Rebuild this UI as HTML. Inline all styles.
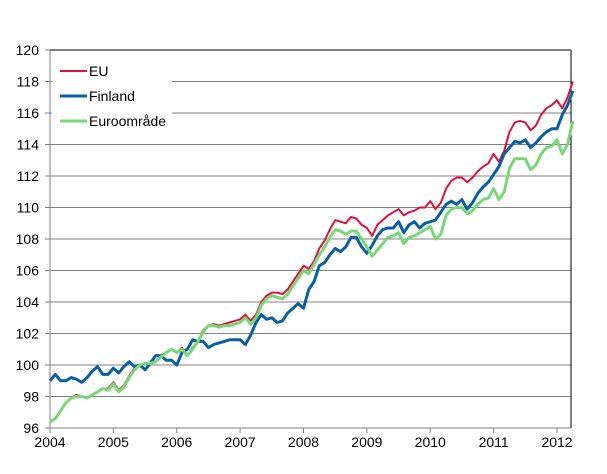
<!DOCTYPE html>
<html><head><meta charset="utf-8"><style>
body{margin:0;background:#fff}
svg{display:block;font-family:"Liberation Sans",sans-serif}
</style></head><body>
<svg id="s" width="607" height="474" viewBox="0 0 607 474">
</svg>
<script>
const eu=[96.4,96.6,97.1,97.6,97.9,98.1,98.0,97.9,98.1,98.3,98.5,98.5,
98.9,98.4,98.7,99.3,99.8,100.0,100.1,100.1,100.2,100.5,100.8,101.0,
100.8,101.1,100.6,101.1,101.5,102.2,102.5,102.6,102.5,102.6,102.7,102.8,
102.9,103.2,102.8,103.2,104.0,104.4,104.6,104.6,104.5,104.8,105.3,105.8,
106.3,106.1,106.6,107.4,107.9,108.6,109.2,109.1,109.0,109.4,109.3,108.9,
108.7,108.2,108.9,109.2,109.5,109.7,109.9,109.5,109.7,109.8,110.0,110.0,
110.4,109.9,110.3,111.2,111.7,111.9,111.9,111.6,111.9,112.3,112.6,112.8,
113.4,112.9,113.6,114.8,115.4,115.5,115.4,114.9,115.2,115.9,116.3,116.5,
116.8,116.3,117.0,118.0];
const fi=[99.0,99.4,99.0,99.0,99.2,99.1,98.9,99.2,99.6,99.9,99.4,99.4,
99.8,99.5,99.9,100.2,99.9,100.0,99.7,100.1,100.6,100.6,100.3,100.3,
100.0,100.8,101.0,101.6,101.5,101.5,101.1,101.3,101.4,101.5,101.6,101.6,
101.6,101.3,101.9,102.7,103.2,102.9,103.0,102.7,102.8,103.3,103.6,103.9,
103.6,104.8,105.3,106.3,106.5,107.0,107.4,107.2,107.5,108.1,108.1,107.5,
107.1,107.6,108.2,108.6,108.7,108.7,109.1,108.4,108.9,109.1,108.7,109.0,
109.1,109.2,109.7,110.2,110.4,110.2,110.5,109.9,110.3,110.9,111.3,111.6,
112.1,112.6,113.4,113.8,114.2,114.1,114.3,113.8,114.1,114.5,114.8,115.0,
115.0,115.9,116.5,117.4];
const ea=[96.4,96.6,97.1,97.6,97.9,98.0,98.0,97.9,98.1,98.3,98.5,98.4,
98.8,98.3,98.6,99.2,99.7,100.0,100.1,100.1,100.2,100.5,100.8,101.0,
100.8,101.0,100.6,101.0,101.5,102.1,102.5,102.5,102.4,102.5,102.5,102.6,
102.7,103.0,102.6,103.0,103.8,104.2,104.4,104.3,104.2,104.5,105.0,105.5,
106.0,105.8,106.4,107.0,107.5,108.1,108.6,108.5,108.3,108.5,108.5,108.0,
107.5,106.9,107.3,107.7,108.1,108.2,108.4,107.7,108.1,108.2,108.4,108.6,
108.8,108.0,108.3,109.5,109.9,110.0,110.0,109.6,109.8,110.2,110.5,110.6,
111.2,110.5,111.0,112.5,113.1,113.1,113.1,112.4,112.7,113.4,113.8,113.9,
114.3,113.4,114.0,115.5];
const L=50,R=571,T=50,B=428,Y0=2004;
const yr=(557-50)/8;
const X=m=>50+m*yr/12, Yv=v=>B-(v-96)*(B-T)/24;
let h='';
for(let v=98;v<120;v+=2){const y=Yv(v).toFixed(1);h+=`<line x1="${L}" x2="${R}" y1="${y}" y2="${y}" stroke="#808080" stroke-width="1"/>`;}
h+=`<rect x="52" y="55" width="120" height="80" fill="#fff"/>`;
h+=`<line x1="${L}" x2="${R}" y1="${T}" y2="${T}" stroke="#000"/>`;
h+=`<line x1="${R}" x2="${R}" y1="${T}" y2="${B}" stroke="#000"/>`;
h+=`<line x1="${L}" x2="${L}" y1="${T}" y2="${B}" stroke="#808080"/>`;
h+=`<line x1="${L}" x2="${R}" y1="${B}" y2="${B}" stroke="#808080"/>`;
for(let v=96;v<=120;v+=2){const y=Yv(v);h+=`<line x1="${L-5}" x2="${L}" y1="${y}" y2="${y}" stroke="#808080"/><text x="${L-11}" y="${y+5}" font-size="14" text-anchor="end">${v}</text>`;}
for(let i=0;i<=8;i++){const x=50+i*yr;h+=`<line x1="${x}" x2="${x}" y1="${B}" y2="${B+5}" stroke="#808080"/><text x="${x}" y="${B+19}" font-size="14" text-anchor="middle">${Y0+i}</text>`;}
const pl=(d,c,w)=>`<polyline fill="none" stroke="${c}" stroke-width="${w}" stroke-linejoin="round" points="${d.map((v,i)=>X(i).toFixed(1)+','+Yv(v).toFixed(1)).join(' ')}"/>`;
h+=pl(eu,'#e0103c',2)+pl(fi,'#0a5fa0',3)+pl(ea,'#78d878',3);
h+=`<line x1="60" x2="87" y1="71" y2="71" stroke="#e0103c" stroke-width="2"/><text x="89" y="76" font-size="14">EU</text>`;
h+=`<line x1="60" x2="87" y1="96" y2="96" stroke="#0a5fa0" stroke-width="3"/><text x="89" y="101" font-size="14">Finland</text>`;
h+=`<line x1="60" x2="87" y1="121" y2="121" stroke="#78d878" stroke-width="3"/><text x="89" y="126" font-size="14">Euroområde</text>`;
document.getElementById('s').innerHTML=h;
</script>
</body></html>
